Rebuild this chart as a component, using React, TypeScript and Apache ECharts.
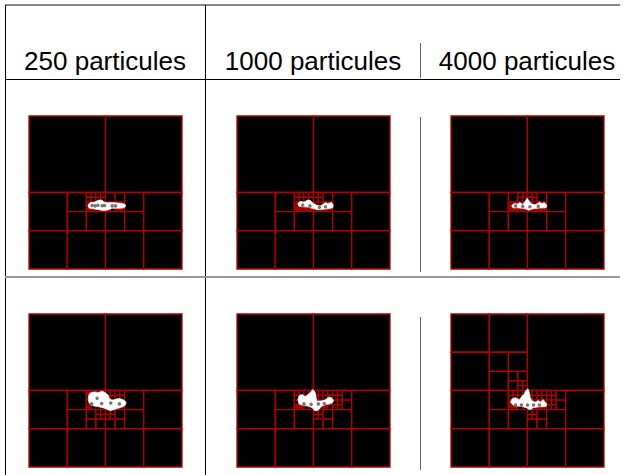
import { useEffect, useRef } from "react";
import * as echarts from "echarts";

// Column headers
const headers = ["250 particules", "1000 particules", "4000 particules"];

// Quadtree subdivisions, each [x, y, size] in 1/64 units of the square (y downward)
const baseSplits = [[0, 0, 64], [0, 32, 32], [32, 32, 32], [16, 32, 16], [32, 32, 16], [24, 32, 8], [32, 32, 8]];
const splitsR1C1 = [[24, 32, 4], [28, 32, 4], [24, 36, 4], [28, 36, 4], [32, 36, 4], [36, 36, 4],
  [24, 36, 2], [24, 38, 2], [26, 38, 2], [30, 38, 2], [32, 38, 2], [38, 36, 2], [38, 38, 2], [36, 38, 2]];
const splitsR1C2 = [[24, 32, 4], [28, 32, 4], [32, 32, 4], [24, 36, 4], [28, 36, 4], [32, 36, 4], [36, 36, 4],
  [24, 36, 2], [24, 38, 2], [26, 38, 2], [28, 38, 2], [30, 38, 2], [32, 38, 2], [34, 38, 2], [36, 38, 2], [38, 38, 2], [38, 36, 2]];
const splitsR1C3 = [[28, 32, 4], [32, 32, 4], [24, 36, 4], [28, 36, 4], [32, 36, 4], [36, 36, 4],
  [24, 36, 2], [26, 36, 2], [24, 38, 2], [26, 38, 2], [28, 38, 2], [30, 38, 2], [32, 38, 2], [34, 38, 2], [36, 38, 2], [38, 38, 2], [38, 36, 2], [36, 36, 2]];
const splitsR2C1 = [[24, 32, 4], [28, 32, 4], [24, 36, 4], [28, 36, 4], [32, 32, 4], [36, 32, 4], [32, 36, 4], [36, 36, 4],
  [24, 40, 8], [32, 40, 8], [28, 40, 4], [32, 40, 4], [24, 32, 2], [24, 38, 2], [38, 38, 2]];
const splitsR2C2 = [[24, 32, 4], [28, 32, 4], [24, 36, 4], [28, 36, 4], [32, 32, 4], [36, 32, 4], [32, 36, 4], [36, 36, 4],
  [40, 32, 8], [40, 32, 4], [40, 36, 4], [32, 40, 8], [32, 40, 4], [24, 38, 2], [26, 38, 2], [32, 38, 2], [36, 38, 2]];
const splitsR2C3 = [[0, 0, 32], [16, 16, 16], [24, 24, 8], [28, 28, 4],
  [24, 32, 4], [28, 32, 4], [24, 36, 4], [28, 36, 4], [32, 32, 4], [36, 32, 4], [32, 36, 4], [36, 36, 4],
  [40, 32, 8], [40, 32, 4], [40, 36, 4], [32, 40, 8], [32, 40, 4], [24, 36, 2], [24, 38, 2], [26, 38, 2], [34, 38, 2], [36, 38, 2], [38, 38, 2]];

// Particle clusters (outline of the white cloud), 1/64 units
const blobR1C1 = [[24.7, 37.5], [25.5, 36.3], [27.5, 36.0], [28.8, 35.3], [30.5, 35.2], [31.5, 36.0], [33, 36.3], [35, 36.2], [37, 36.4], [39, 36.6], [40.4, 37.2], [40, 38.3], [37.5, 38.6], [35, 38.6], [33, 39.3], [31, 39.5], [29, 39.2], [27, 38.8], [25.3, 38.6]];
const blobR1C2 = [[25.5, 36.6], [26.5, 35.8], [28, 36.0], [29.5, 35.2], [30.8, 35.4], [31.5, 36.2], [32.5, 36.8], [33.5, 37.4], [35.5, 37.3], [36.8, 36.3], [38, 36.6], [39.5, 36.2], [40.2, 37.2], [40, 38.4], [38, 38.8], [36, 39.0], [34, 39.2], [32, 38.8], [30, 38.2], [28, 38.0], [26, 37.8]];
const blobR1C3 = [[25.4, 37.6], [26.5, 36.6], [27.8, 36.8], [28.8, 36.2], [29.9, 36.9], [31, 35.8], [31.8, 34.4], [32.8, 35.6], [33.5, 36.6], [34.8, 37.0], [36, 36.8], [36.9, 36.0], [38, 36.6], [39, 36.3], [40, 37.2], [39.8, 38.3], [37, 38.5], [34, 38.9], [32.5, 39.4], [31, 38.8], [28, 38.4], [26, 38.4]];
const blobR2C1 = [[24.8, 34.8], [25.5, 33.2], [27, 32.6], [29, 32.8], [30.6, 32.3], [32, 33.0], [33.2, 34.0], [33.6, 35.4], [35, 36.0], [36.5, 35.6], [38, 35.4], [39.6, 36.0], [40.6, 37.0], [40, 38.4], [38, 39.2], [36, 39.8], [34, 40.4], [32, 39.6], [30, 39.0], [28, 38.6], [26, 38.2], [25, 36.8]];
const blobR2C2 = [[25.5, 35.8], [26.2, 34.0], [27.5, 33.8], [28.5, 34.5], [30, 33.5], [31, 32.4], [31.7, 31.6], [32.8, 33.0], [33.1, 34.8], [33.4, 36.3], [35, 36.4], [36.8, 36.0], [38.3, 34.8], [39.5, 35.0], [40.4, 36.3], [39.5, 37.4], [37.5, 37.8], [35.5, 38.6], [34, 40.2], [32.5, 40.5], [31.8, 39.5], [30, 38.6], [28, 38.3], [26, 37.6]];
const blobR2C3 = [[25.0, 37.0], [25.6, 35.5], [27, 35.0], [28.5, 35.8], [29.5, 34.6], [30.5, 33.6], [31.2, 32.2], [32.2, 31.3], [32.8, 33.0], [33.2, 35.0], [34.1, 36.4], [35.5, 36.8], [36.5, 36.2], [37.5, 36.8], [38.5, 35.8], [39.3, 36.8], [40, 37.4], [39.8, 38.6], [37, 38.8], [34.5, 39.2], [33, 40.0], [31.5, 39.2], [29, 38.6], [26.5, 38.4]];

// Shaded particles inside the clouds
const dotsR1C1 = [[26.4, 37.4], [27.6, 37.6], [28.8, 37.3], [30.6, 37.5], [31.6, 37.4], [34.8, 37.6], [36.2, 37.6]];
const dotsR1C2 = [[27.5, 37.2], [30.5, 37.6], [34.5, 38.2], [37, 38.0]];
const dotsR1C3 = [[27, 37.6], [30, 37.8], [33, 38.0], [36.5, 37.8]];
const dotsR2C1 = [[26.2, 37.6], [30.4, 37.4], [34.2, 37.2], [37.8, 37.6], [28.5, 35.2]];
const dotsR2C2 = [[28, 37.6], [31, 37.8], [34, 37.6], [36.5, 37.4]];
const dotsR2C3 = [[27, 38.1], [29.5, 38.1], [32, 38.1], [34.5, 38.1], [37, 38.1]];

const panelSplits = [splitsR1C1, splitsR1C2, splitsR1C3, splitsR2C1, splitsR2C2, splitsR2C3];
const panelBlobs = [blobR1C1, blobR1C2, blobR1C3, blobR2C1, blobR2C2, blobR2C3];
const panelDots = [dotsR1C1, dotsR1C2, dotsR1C3, dotsR2C1, dotsR2C2, dotsR2C3];

// layout
const colLeft = [29, 237, 451];
const rowTop = [116, 314];
const SIZE = 153;
const colCenter = [105, 313, 527];

function leaves(splits: number[][]) {
  const set = new Set([...baseSplits, ...splits].map((s) => s.join(",")));
  const out: number[][] = [];
  const rec = (x: number, y: number, s: number) => {
    if (set.has(`${x},${y},${s}`)) {
      const h = s / 2;
      rec(x, y, h); rec(x + h, y, h); rec(x, y + h, h); rec(x + h, y + h, h);
    } else out.push([x, y, s]);
  };
  rec(0, 0, 64);
  return out;
}

export default function App() {
  const ref = useRef<HTMLDivElement>(null);
  useEffect(() => {
    const chart = echarts.init(ref.current!, null, { renderer: "svg" });
    const grids: any[] = [];
    const xAxes: any[] = [];
    const yAxes: any[] = [];
    const series: any[] = [];
    for (let p = 0; p < 6; p++) {
      const r = Math.floor(p / 3), c = p % 3;
      grids.push({ left: colLeft[c], top: rowTop[r], width: SIZE, height: SIZE });
      xAxes.push({ gridIndex: p, type: "value", min: 0, max: 64, show: false });
      yAxes.push({ gridIndex: p, type: "value", min: 0, max: 64, inverse: true, show: false });
      series.push({
        type: "custom", xAxisIndex: p, yAxisIndex: p, silent: true,
        data: leaves(panelSplits[p]),
        renderItem: (_params: any, api: any) => {
          const x = api.value(0), y = api.value(1), s = api.value(2);
          const a = api.coord([x, y]);
          const b = api.coord([x + s, y + s]);
          return {
            type: "rect",
            shape: { x: a[0], y: a[1], width: b[0] - a[0], height: b[1] - a[1] },
            style: { fill: "#000", stroke: "#b30000", lineWidth: 1.3 },
          };
        },
      });
      series.push({
        type: "custom", xAxisIndex: p, yAxisIndex: p, silent: true,
        data: [[p]],
        renderItem: (_params: any, api: any) => {
          const pts = panelBlobs[p].map((q) => api.coord(q));
          return { type: "polygon", shape: { points: pts, smooth: 0.2 }, style: { fill: "#fff", stroke: "#eee", lineWidth: 0.8 } };
        },
      });
      series.push({
        type: "scatter", xAxisIndex: p, yAxisIndex: p, silent: true,
        data: panelDots[p], symbolSize: 3.5,
        itemStyle: { color: "#555" },
      });
    }
    const ln = (x1: number, y1: number, x2: number, y2: number, stroke: string, w: number) => ({
      type: "line", shape: { x1, y1, x2, y2 }, style: { stroke, lineWidth: w }, silent: true,
    });
    const graphic: any[] = [
      ln(5, 5, 620, 5, "#888", 2),
      ln(5.5, 5, 5.5, 475, "#000", 1),
      ln(205.5, 5, 205.5, 475, "#000", 1),
      ln(5, 79.5, 620, 79.5, "#000", 1),
      ln(5, 277, 620, 277, "#999", 2),
      ln(420.5, 43, 420.5, 78, "#666", 1),
      ln(420.5, 117, 420.5, 272, "#666", 1),
      ln(420.5, 317, 420.5, 470, "#666", 1),
      ...headers.map((h, i) => ({
        type: "text", x: colCenter[i], y: 61, silent: true,
        style: { text: h, fontSize: 26, fontFamily: "Liberation Sans", fill: "#000", align: "center", verticalAlign: "middle" },
      })),
    ];
    chart.setOption({ animation: false, grid: grids, xAxis: xAxes, yAxis: yAxes, series, graphic });
    return () => chart.dispose();
  }, []);
  return <div ref={ref} style={{ position: "absolute", left: 0, top: 0, width: 630, height: 475, background: "#fff" }} />;
}
